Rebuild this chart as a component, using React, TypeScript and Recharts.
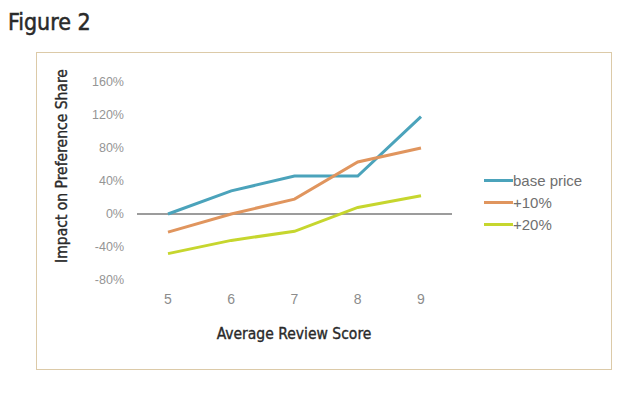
import { LineChart, Line, XAxis, YAxis, ReferenceLine } from "recharts";

const scores = ["5", "6", "7", "8", "9"];
const basePrice = [0, 28, 46, 46, 118];
const plus10 = [-22, 0, 18, 63, 80];
const plus20 = [-48, -32, -21, 8, 22];
const yTicks = [-80, -40, 0, 40, 80, 120, 160];

const series = [
  { key: "base", name: "base price", color: "#4ba3bb" },
  { key: "p10", name: "+10%", color: "#e0955e" },
  { key: "p20", name: "+20%", color: "#c6d62e" },
];

const rows = scores.map((s, i) => ({
  score: s,
  base: basePrice[i],
  p10: plus10[i],
  p20: plus20[i],
}));

const labelFont = "'DejaVu Sans Condensed', 'Liberation Sans Narrow', sans-serif";
const tickFont = "'Liberation Sans', Arial, sans-serif";

const labelStyle = {
  position: "absolute" as const,
  whiteSpace: "nowrap" as const,
  fontFamily: labelFont,
  fontSize: 15.5,
  color: "#2a2a2a",
  WebkitTextStroke: "0.35px #2a2a2a",
};

export default function App() {
  return (
    <div style={{ position: "absolute", left: 0, top: 0, width: 638, height: 399, background: "#fff" }}>
      <div style={{ ...labelStyle, left: 8, top: 9, fontSize: 23, WebkitTextStroke: "0.5px #2a2a2a" }}>Figure 2</div>
      <div
        style={{
          position: "absolute",
          left: 36,
          top: 52,
          width: 576,
          height: 318,
          border: "1px solid #dccaa8",
          boxSizing: "border-box",
        }}
      />
      <div style={{ position: "absolute", left: 0, top: 0 }}>
        <LineChart width={638} height={399} data={rows} margin={{ top: 82, right: 186, bottom: 0, left: 0 }}>
          <XAxis
            dataKey="score"
            axisLine={false}
            tickLine={false}
            padding={{ left: 31, right: 31 }}
            tick={{ fill: "#8c8c8c", fontSize: 14, fontFamily: tickFont }}
            tickMargin={8}
            height={119}
          />
          <YAxis
            width={137}
            domain={[-80, 160]}
            ticks={yTicks}
            axisLine={false}
            tickLine={false}
            tickMargin={7}
            tickFormatter={(v: number) => `${v}%`}
            tick={{ fill: "#959595", fontSize: 12.5, fontFamily: tickFont }}
          />
          <ReferenceLine y={0} stroke="#3a3a3a" strokeWidth={1.2} />
          {series.map((s) => (
            <Line
              key={s.key}
              dataKey={s.key}
              name={s.name}
              stroke={s.color}
              strokeWidth={3}
              dot={false}
              type="linear"
              isAnimationActive={false}
            />
          ))}
        </LineChart>
      </div>
      <div style={{ position: "absolute", left: 484, top: 169 }}>
        {series.map((s) => (
          <div key={s.key} style={{ display: "flex", alignItems: "center", height: 22 }}>
            <span style={{ width: 29, height: 3, background: s.color, display: "inline-block" }} />
            <span style={{ color: "#6f6f6f", fontSize: 15, fontFamily: tickFont }}>{s.name}</span>
          </div>
        ))}
      </div>
      <div style={{ ...labelStyle, left: 294, top: 334, transform: "translate(-50%, -50%)" }}>
        Average Review Score
      </div>
      <div style={{ ...labelStyle, left: 62, top: 166, transform: "translate(-50%, -50%) rotate(-90deg)" }}>
        Impact on Preference Share
      </div>
    </div>
  );
}
